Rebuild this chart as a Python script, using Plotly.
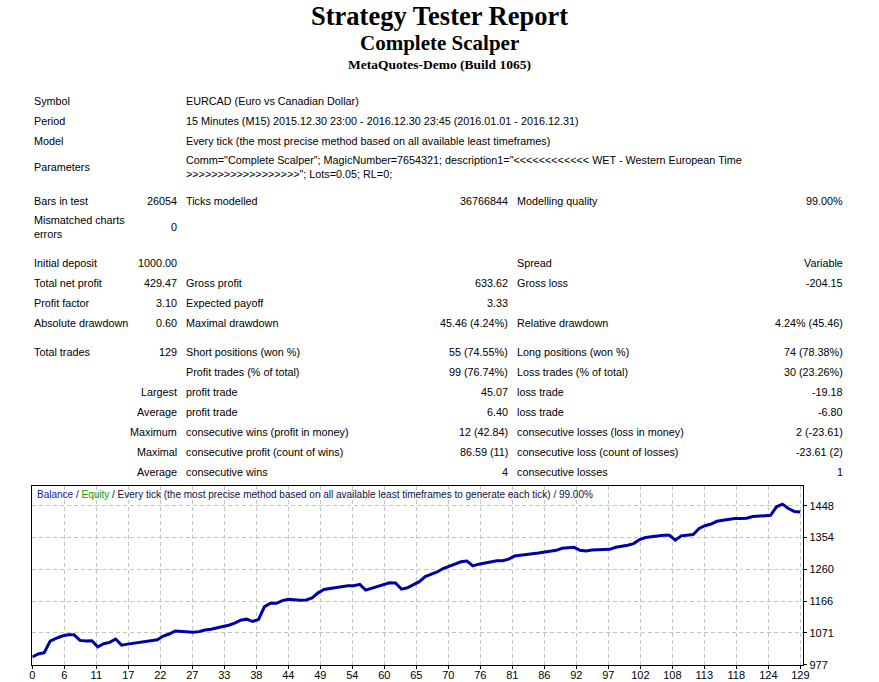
import plotly.graph_objects as go

W, H = 879, 682

# ---------------- data ----------------
trade_no = list(range(130))
balance = [
    1000, 1008.7, 1012.5, 1047, 1055, 1062, 1066, 1066, 1049, 1047,
    1048, 1030, 1039, 1043, 1053, 1035, 1038, 1041, 1044, 1047,
    1049, 1051, 1062, 1068, 1077, 1075, 1075, 1073, 1075, 1080,
    1082, 1085, 1090, 1094, 1100, 1109, 1112, 1105, 1111, 1149,
    1159, 1159, 1167, 1171, 1169, 1168, 1169, 1175, 1190, 1200,
    1203, 1206, 1209, 1211, 1211, 1215, 1198, 1203, 1210, 1215,
    1220, 1219, 1201, 1205, 1213, 1223, 1238, 1245, 1252, 1262,
    1269, 1274, 1282, 1284, 1270, 1275, 1279, 1282, 1285, 1285,
    1290, 1299, 1302, 1305, 1306, 1308, 1310, 1313, 1316, 1322,
    1324, 1325, 1316, 1314, 1317, 1318, 1318, 1319, 1325, 1327,
    1331, 1336, 1348, 1354, 1357, 1359, 1361, 1361, 1346, 1359,
    1361, 1363, 1381, 1389, 1394, 1402, 1405, 1408, 1410, 1410,
    1411, 1416, 1418, 1418, 1420, 1445, 1453, 1440, 1431, 1429.5,
]
x_tick_labels = ["0", "6", "11", "17", "22", "27", "33", "38", "44", "49", "54", "60", "65",
                 "70", "76", "81", "86", "92", "97", "102", "108", "113", "118", "124", "129"]
y_tick_vals = [977, 1071.2, 1165.5, 1259.8, 1354.1, 1448.4]
y_tick_labels = ["977", "1071", "1166", "1260", "1354", "1448"]

title_lines = ["Strategy Tester Report", "Complete Scalper", "MetaQuotes-Demo (Build 1065)"]

col1 = ["Symbol", "Period", "Model", "Parameters", "Bars in test", "Mismatched charts<br>errors",
        "Initial deposit", "Total net profit", "Profit factor", "Absolute drawdown", "Total trades",
        "", "", "", "", "", ""]
col2 = ["", "", "", "", "26054", "0", "1000.00", "429.47", "3.10", "0.60", "129",
        "", "Largest", "Average", "Maximum", "Maximal", "Average"]
col3 = ["EURCAD (Euro vs Canadian Dollar)",
        "15 Minutes (M15) 2015.12.30 23:00 - 2016.12.30 23:45 (2016.01.01 - 2016.12.31)",
        "Every tick (the most precise method based on all available least timeframes)",
        "Comm=\"Complete Scalper\"; MagicNumber=7654321; description1=\"" + "&lt;" * 12 +
        " WET - Western European Time<br>" + "&gt;" * 18 + "\"; Lots=0.05; RL=0;",
        "Ticks modelled", "", "", "Gross profit", "Expected payoff", "Maximal drawdown",
        "Short positions (won %)", "Profit trades (% of total)", "profit trade", "profit trade",
        "consecutive wins (profit in money)", "consecutive profit (count of wins)", "consecutive wins"]
col4 = ["", "", "", "", "36766844", "", "", "633.62", "3.33", "45.46 (4.24%)", "55 (74.55%)",
        "99 (76.74%)", "45.07", "6.40", "12 (42.84)", "86.59 (11)", "4"]
col5 = ["", "", "", "", "Modelling quality", "", "Spread", "Gross loss", "", "Relative drawdown",
        "Long positions (won %)", "Loss trades (% of total)", "loss trade", "loss trade",
        "consecutive losses (loss in money)", "consecutive loss (count of losses)", "consecutive losses"]
col6 = ["", "", "", "", "99.00%", "", "Variable", "-204.15", "", "4.24% (45.46)", "74 (78.38%)",
        "30 (23.26%)", "-19.18", "-6.80", "2 (-23.61)", "-23.61 (2)", "1"]

chart_caption = ("<span style='color:#1a1aa0'>Balance</span> / "
                 "<span style='color:#00a000'>Equity</span> / Every tick (the most precise method based on "
                 "all available least timeframes to generate each tick) / 99.00%")

# ---------------- layout helpers ----------------
row_y = [101, 121, 141, 167, 201, 227, 263, 283, 303, 323, 352, 372, 392, 412, 432, 452, 472]
cols = [  # (texts, x pixel, anchor)
    (col1, 33, "left"), (col2, 178, "right"), (col3, 185, "left"),
    (col4, 509, "right"), (col5, 516, "left"), (col6, 844, "right"),
]
TFONT = dict(family="Liberation Sans, Arial, sans-serif", size=10.8, color="#000000")


def px(x):
    return x / W


def py(y):
    return 1 - y / H


annotations = []
title_spec = [(16, 26.5), (43, 21), (64, 13.5)]
for txt, (yy, sz) in zip(title_lines, title_spec):
    annotations.append(dict(text="<b>" + txt + "</b>", x=0.5, y=py(yy), xref="paper", yref="paper",
                            xanchor="center", yanchor="middle", showarrow=False,
                            font=dict(family="Liberation Serif, Times New Roman, serif", size=sz,
                                      color="#000000")))

for texts, xx, anc in cols:
    for t, yy in zip(texts, row_y):
        if not t:
            continue
        annotations.append(dict(text=t, x=px(xx), y=py(yy), xref="paper", yref="paper",
                                xanchor=anc, yanchor="middle", align=anc, showarrow=False,
                                borderpad=0, font=TFONT))

annotations.append(dict(text=chart_caption, x=px(36), y=py(494), xref="paper", yref="paper",
                        xanchor="left", yanchor="middle", showarrow=False, borderpad=0,
                        font=dict(family="Liberation Sans, Arial, sans-serif", size=10,
                                  color="#10104a")))

fig = go.Figure()
fig.add_trace(go.Scatter(x=trade_no, y=balance, mode="lines",
                         line=dict(color="#0000a8", width=3), hoverinfo="skip",
                         showlegend=False))

GRID = dict(showgrid=True, gridcolor="#c4c4c4", griddash="4px,3px", gridwidth=1)

fig.update_layout(
    width=W, height=H, autosize=False,
    margin=dict(l=0, r=0, t=0, b=0, pad=0, autoexpand=False),
    paper_bgcolor="white", plot_bgcolor="white",
    annotations=annotations,
    showlegend=False,
    xaxis=dict(domain=[px(32.3), px(803.3)], range=[0, 129.5], automargin=False,
               tickvals=[i * 129 / 24 for i in range(25)], ticktext=x_tick_labels,
               ticks="outside", ticklen=3, tickcolor="#000000", ticklabelstandoff=-3,
               showline=True, linecolor="#000000", linewidth=1, mirror=True,
               zeroline=False, **GRID,
               tickfont=dict(family="Liberation Sans, Arial, sans-serif", size=11, color="#000000")),
    yaxis=dict(domain=[py(664.7), py(486)], range=[977, 1506.7], side="right", automargin=False,
               tickvals=y_tick_vals, ticktext=y_tick_labels,
               ticks="outside", ticklen=3, tickcolor="#000000",
               showline=True, linecolor="#000000", linewidth=1, mirror=True,
               zeroline=False, **GRID,
               tickfont=dict(family="Liberation Sans, Arial, sans-serif", size=11, color="#000000")),
)

fig.write_html("out.html",
               config={"displayModeBar": False, "responsive": False, "staticPlot": True},
               post_script="document.body.style.margin='0';document.body.style.overflow='hidden';")
